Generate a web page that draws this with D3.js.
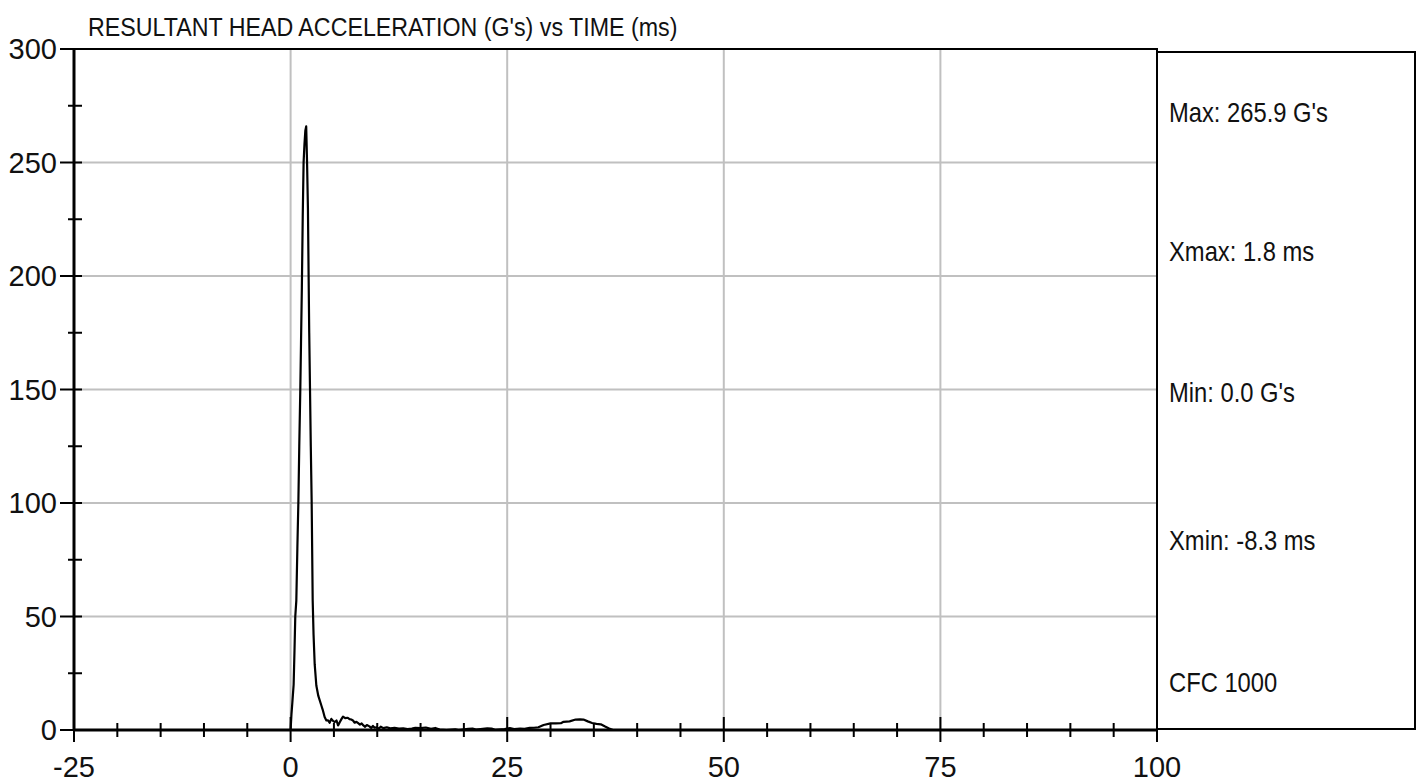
<!DOCTYPE html>
<html>
<head>
<meta charset="utf-8">
<script src="https://cdn.jsdelivr.net/npm/d3@7"></script>
<style>
  body { margin: 0; background: #fff; }
  text { font-family: "Liberation Sans", Arial, sans-serif; fill: #111; }
</style>
</head>
<body>
<div id="chart"></div>
<script>
// time (ms) and resultant acceleration (G's)
const time_ms = [
  -8.3, 0, 0.1, 0.2, 0.35, 0.45, 0.54, 0.66, 0.78, 0.9, 1.0, 1.12, 1.2, 1.3, 1.4, 1.5, 1.6, 1.7, 1.8,
  1.9, 2.0, 2.08, 2.15, 2.24, 2.33, 2.43, 2.55, 2.65, 2.78, 2.97, 3.2, 3.55, 3.7, 3.93, 4.13, 4.32,
  4.5, 4.7, 4.9, 5.1, 5.3, 5.48, 5.7, 5.9, 6.05, 6.3, 6.6, 6.8, 7.0, 7.2, 7.4, 7.6, 7.8, 8.0, 8.2,
  8.4, 8.6, 8.8, 9.1, 9.3, 9.5, 9.7, 9.9, 10.2, 10.4, 10.7, 11.1, 11.5, 12.0, 12.5, 13.0, 13.5, 14.0,
  14.4, 15.0, 15.6, 16.2, 16.7, 17.2, 18.0, 19.0, 19.4, 20.5, 21.0, 21.4, 22.7, 23.2, 23.6, 24.7,
  25.3, 25.8, 26.5, 27.0, 27.6, 28.1, 28.6, 29.2, 30.0, 30.6, 31.2, 31.5, 32.2, 32.9, 33.4, 33.8,
  34.3, 34.8, 35.3, 35.8, 36.3, 36.7, 37.2, 45.0
];
const accel_g = [
  0, 0, 7, 12, 20, 35, 50, 57, 80, 101, 125, 150, 170, 195, 226, 250, 258, 264, 265.9,
  250, 230, 200, 175, 150, 125, 101, 57, 42, 29, 19.6, 15, 10.8, 9, 5.7, 4.2, 4.2,
  3.2, 4.9, 4.0, 3.5, 4.2, 2.0, 3.6, 5.0, 5.9, 5.2, 5.4, 4.8, 4.6, 4.2, 3.2, 3.6, 3.0, 2.4, 2.9,
  2.0, 1.4, 2.2, 1.6, 0.9, 1.8, 1.0, 1.2, 0.6, 1.5, 0.8, 1.2, 0.7, 0.9, 0.6, 0.7, 0.4, 0.6,
  1.0, 0.8, 1.1, 0.5, 0.9, 0.2, 0, 0.3, 0, 0.5, 0.6, 0.2, 0.7, 0.6, 0.1, 0.4,
  0.8, 0.4, 0.6, 0.5, 0.9, 1.0, 1.2, 2.2, 2.9, 2.9, 3.0, 3.6, 3.8, 4.6, 4.7, 4.6,
  3.8, 3.1, 2.7, 2.5, 1.5, 0.8, 0, 0
];

const x_ticks = [-25, 0, 25, 50, 75, 100];
const x_minor = [-20, -15, -10, -5, 5, 10, 15, 20, 30, 35, 40, 45, 55, 60, 65, 70, 80, 85, 90, 95];
const y_ticks = [0, 50, 100, 150, 200, 250, 300];
const y_minor = [25, 75, 125, 175, 225, 275];
const x_grid = [0, 25, 50, 75];
const y_grid = [50, 100, 150, 200, 250];

const title_text = "RESULTANT HEAD ACCELERATION (G's) vs TIME (ms)";
const info_lines = ["Max: 265.9 G's", "Xmax: 1.8 ms", "Min: 0.0 G's", "Xmin: -8.3 ms", "CFC 1000"];

const width = 1420, height = 783;
const plot_left = 74, plot_right = 1157, plot_top = 49, plot_bottom = 730;
const narrow = 0.88; // horizontal squeeze to mimic a narrow face

let svg = d3.select("#chart").append("svg")
  .attr("width", width)
  .attr("height", height);

let x = d3.scaleLinear().domain([-25, 100]).range([plot_left, plot_right]);
let y = d3.scaleLinear().domain([0, 300]).range([plot_bottom, plot_top]);

// grid
svg.selectAll(".vgrid").data(x_grid).enter().append("line")
  .attr("x1", (d) => x(d)).attr("x2", (d) => x(d))
  .attr("y1", plot_top).attr("y2", plot_bottom)
  .attr("stroke", "#c0c0c0").attr("stroke-width", 2);
svg.selectAll(".hgrid").data(y_grid).enter().append("line")
  .attr("x1", plot_left).attr("x2", plot_right)
  .attr("y1", (d) => y(d)).attr("y2", (d) => y(d))
  .attr("stroke", "#c0c0c0").attr("stroke-width", 2);

// trace
let points = time_ms.map((t, i) => [t, accel_g[i]]);
let line = d3.line().x((d) => x(d[0])).y((d) => y(d[1]));
svg.append("path")
  .datum(points)
  .attr("d", line)
  .attr("fill", "none")
  .attr("stroke", "#000")
  .attr("stroke-width", 2.2)
  .attr("stroke-linejoin", "round");

// plot frame
svg.append("rect")
  .attr("x", plot_left).attr("y", plot_top)
  .attr("width", plot_right - plot_left).attr("height", plot_bottom - plot_top)
  .attr("fill", "none").attr("stroke", "#000").attr("stroke-width", 2);
svg.append("line")
  .attr("x1", plot_left).attr("x2", plot_left).attr("y1", plot_top).attr("y2", plot_bottom)
  .attr("stroke", "#000").attr("stroke-width", 3);
svg.append("line")
  .attr("x1", plot_left).attr("x2", plot_right).attr("y1", plot_bottom).attr("y2", plot_bottom)
  .attr("stroke", "#000").attr("stroke-width", 3);

// ticks
svg.selectAll(".xtick").data(x_ticks).enter().append("line")
  .attr("x1", (d) => x(d)).attr("x2", (d) => x(d))
  .attr("y1", plot_bottom - 13).attr("y2", plot_bottom + 12)
  .attr("stroke", "#000").attr("stroke-width", 2);
svg.selectAll(".xminor").data(x_minor).enter().append("line")
  .attr("x1", (d) => x(d)).attr("x2", (d) => x(d))
  .attr("y1", plot_bottom - 7).attr("y2", plot_bottom + 7)
  .attr("stroke", "#000").attr("stroke-width", 2);
svg.selectAll(".ytick").data(y_ticks).enter().append("line")
  .attr("x1", plot_left - 14).attr("x2", plot_left + 8)
  .attr("y1", (d) => y(d)).attr("y2", (d) => y(d))
  .attr("stroke", "#000").attr("stroke-width", 2);
svg.selectAll(".yminor").data(y_minor).enter().append("line")
  .attr("x1", plot_left - 6).attr("x2", plot_left + 8)
  .attr("y1", (d) => y(d)).attr("y2", (d) => y(d))
  .attr("stroke", "#000").attr("stroke-width", 2);

// tick labels
svg.selectAll(".xlabel").data(x_ticks).enter().append("text")
  .attr("x", (d) => x(d)).attr("y", 777)
  .attr("text-anchor", "middle")
  .attr("font-size", 29)
  .text((d) => d);
svg.selectAll(".ylabel").data(y_ticks).enter().append("text")
  .attr("x", 57).attr("y", (d) => y(d) + 10)
  .attr("text-anchor", "end")
  .attr("font-size", 29)
  .text((d) => d);

// title
svg.append("text")
  .attr("transform", "translate(88,36) scale(" + narrow + ",1)")
  .attr("font-size", 26.4)
  .text(title_text);

// info panel
svg.append("rect")
  .attr("x", plot_right).attr("y", 52)
  .attr("width", 1415 - plot_right).attr("height", plot_bottom - 1 - 52)
  .attr("fill", "none").attr("stroke", "#000").attr("stroke-width", 2);

const info_ys = [122, 261, 402, 550, 692];
svg.selectAll(".info").data(info_lines).enter().append("text")
  .attr("transform", (d, i) => "translate(1169," + info_ys[i] + ") scale(" + narrow + ",1)")
  .attr("font-size", 27)
  .text((d) => d);
</script>
</body>
</html>
